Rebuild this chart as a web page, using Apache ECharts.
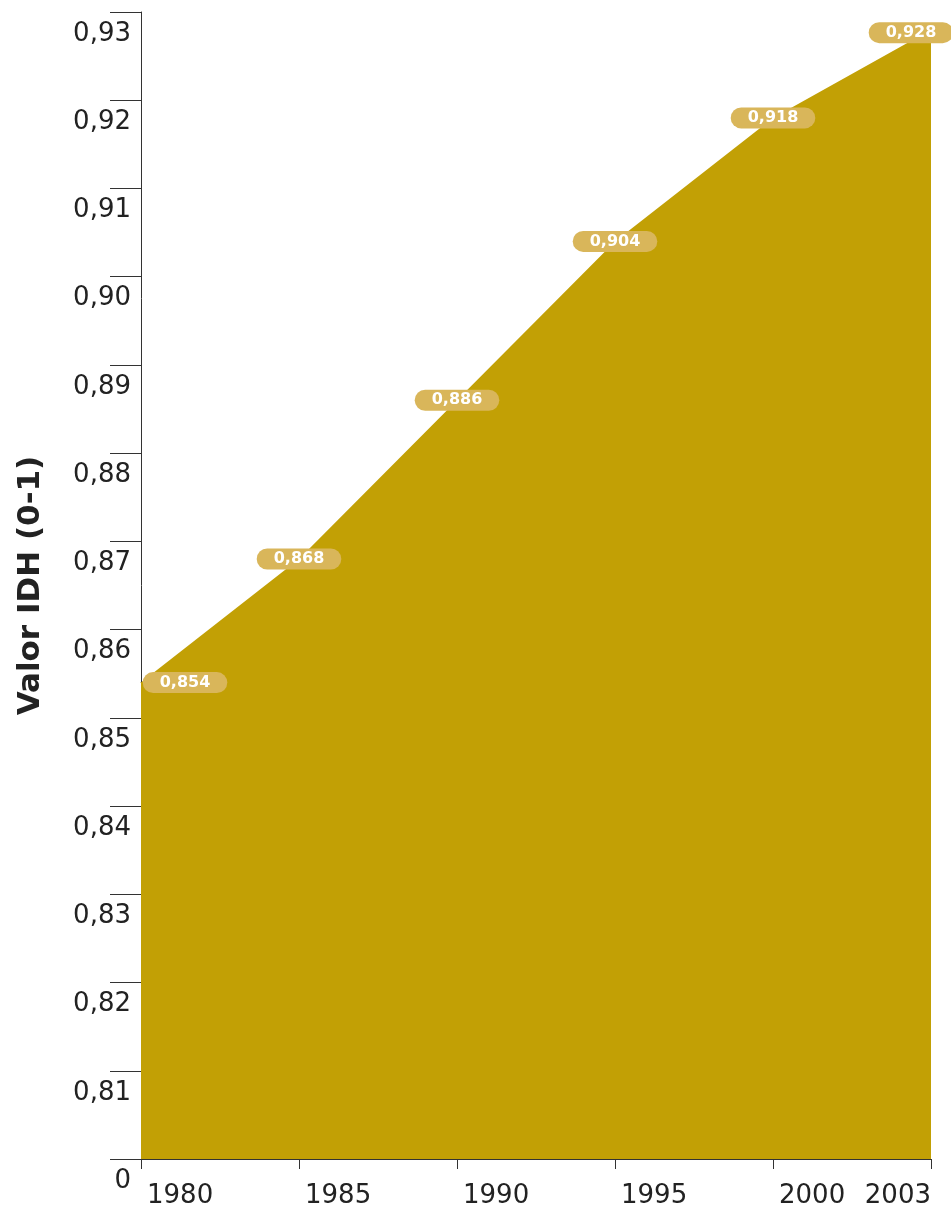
<!DOCTYPE html>
<html>
<head>
<meta charset="utf-8">
<script src="https://cdn.jsdelivr.net/npm/echarts@6/dist/echarts.min.js"></script>
<style>html,body{margin:0;padding:0;background:#fff;}#c{width:951px;height:1209px;}</style>
</head>
<body>
<div id="c"></div>
<script>
const categories = ['1980', '1985', '1990', '1995', '2000', '2003'];
const idhValues = [0.854, 0.868, 0.886, 0.904, 0.918, 0.928];
const yAxisName = 'Valor IDH (0-1)';

const labelOffsets = categories.map((c, i) => i === 0 ? [44, 0] : (i === categories.length - 1 ? [-20, 3] : [0, 0]));
const seriesData = idhValues.map((v, i) => ({ value: v, label: { offset: labelOffsets[i] } }));
const catData = categories.map((c, i) => i === categories.length - 1
  ? { value: c, textStyle: { align: 'right', padding: [0, 0, 0, 0] } }
  : { value: c });

const chart = echarts.init(document.getElementById('c'), null, { renderer: 'canvas' });
chart.setOption({
  animation: false,
  backgroundColor: '#ffffff',
  grid: { left: 141, top: 12, right: 20, bottom: 49, containLabel: false },
  xAxis: {
    type: 'category',
    data: catData,
    boundaryGap: false,
    axisLine: { show: true, lineStyle: { color: '#333', width: 1 } },
    axisTick: { show: true, length: 10, lineStyle: { color: '#333' }, alignWithLabel: false },
    axisLabel: {
      show: true, interval: 0, margin: 24, align: 'left', padding: [0, 0, 0, 6],
      fontFamily: 'DejaVu Sans', fontSize: 26, color: '#222'
    },
    splitLine: { show: false }
  },
  yAxis: {
    type: 'value',
    min: 0.80, max: 0.93, interval: 0.01,
    name: yAxisName,
    nameLocation: 'middle',
    nameGap: 95,
    nameRotate: 90,
    nameTextStyle: { fontFamily: 'DejaVu Sans', fontSize: 31, fontWeight: 'bold', color: '#222' },
    axisLine: { show: true, lineStyle: { color: '#333', width: 1 } },
    axisTick: { show: true, length: 31, lineStyle: { color: '#333' } },
    axisLabel: {
      show: true, margin: 10, verticalAlign: 'top', padding: [9, 0, 0, 0],
      fontFamily: 'DejaVu Sans', fontSize: 26, color: '#222',
      formatter: v => Math.abs(v - 0.8) < 1e-9 ? '0' : v.toFixed(2).replace('.', ',')
    },
    splitLine: { show: false }
  },
  series: [{
    type: 'line',
    data: seriesData,
    symbol: 'circle',
    symbolSize: 1,
    showSymbol: true,
    showAllSymbol: true,
    lineStyle: { width: 0, color: '#C2A005' },
    itemStyle: { color: '#C2A005' },
    areaStyle: { color: '#C2A005', opacity: 1, origin: 'start' },
    label: {
      show: true, position: 'inside',
      formatter: p => p.value.toFixed(3).replace('.', ','),
      fontFamily: 'DejaVu Sans', fontSize: 16, fontWeight: 'bold', color: '#ffffff',
      backgroundColor: '#D9B65A', borderRadius: 11, padding: [3, 17, 2, 17]
    }
  }]
});
</script>
</body>
</html>
